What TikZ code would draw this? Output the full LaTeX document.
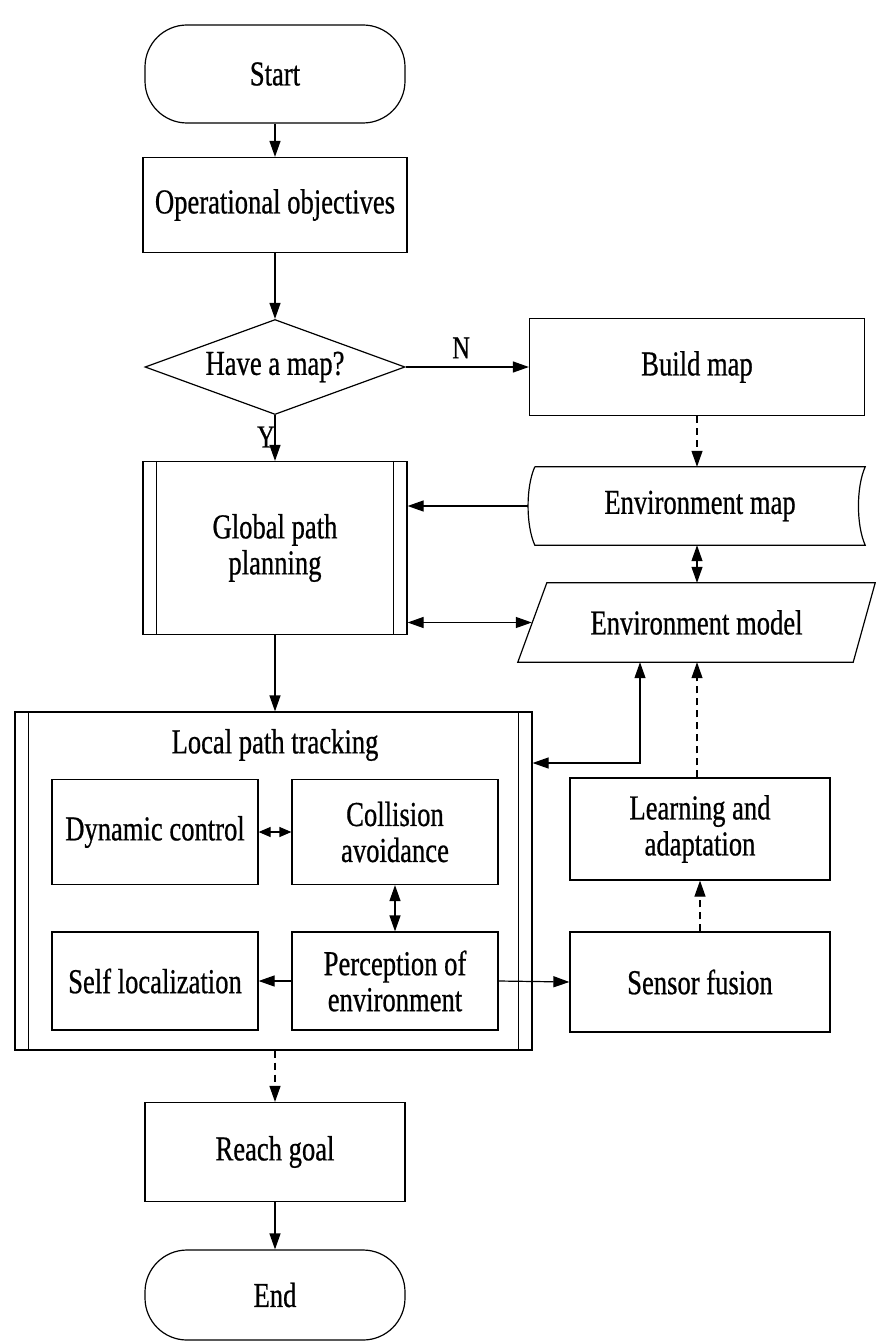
\documentclass[tikz,border=0pt]{standalone}
\usepackage{fontspec}
\setmainfont{Liberation Serif}[FakeStretch=0.76,FakeBold=0.6]
\usetikzlibrary{arrows.meta,shapes.geometric}
\begin{document}
\begin{tikzpicture}[x=1pt,y=-1pt,
  every node/.style={font=\fontsize{35}{36}\selectfont, align=center, inner sep=0pt},
  ln/.style={line width=1.2pt},
  box/.style={draw, ln, rectangle},
  term/.style={draw, ln, rounded corners=42pt},
  ar/.style={ln, -{Triangle[length=16pt,width=11pt]}},
  dar/.style={ln, {Triangle[length=16pt,width=11pt]}-{Triangle[length=16pt,width=11pt]}},
  sdar/.style={ln, {Triangle[length=12pt,width=10pt]}-{Triangle[length=12pt,width=10pt]}},
  dsh/.style={dash pattern=on 7pt off 5pt},
  lbl/.style={font=\fontsize{32}{34}\selectfont}
]
\useasboundingbox (0,0) rectangle (875,1343);

% main column
\node[term, minimum width=260pt, minimum height=98pt] (start) at (275,74) {Start};
\node[box, minimum width=264pt, minimum height=95pt] (obj) at (275,205) {Operational objectives};
\node[draw, ln, diamond, aspect=2.74, minimum width=260pt, minimum height=95pt] (dec) at (275,367) {Have a map?};
\node[box, minimum width=335pt, minimum height=97pt] (build) at (697,367) {Build map};
\node[box, minimum width=264pt, minimum height=173pt] (gpp) at (275,548) {Global path\\planning};
\draw[ln] ([xshift=14pt]gpp.north west) -- ([xshift=14pt]gpp.south west);
\draw[ln] ([xshift=-14pt]gpp.north east) -- ([xshift=-14pt]gpp.south east);

% environment map (stored data)
\node[minimum width=330pt, minimum height=78pt] (envmap) at (700,506) {Environment map};
\draw[ln] (envmap.north west) -- (envmap.north east)
  .. controls ([xshift=-9pt,yshift=-20pt]envmap.north east) and ([xshift=-9pt,yshift=20pt]envmap.south east) .. (envmap.south east)
  -- (envmap.south west)
  .. controls ([xshift=-9pt,yshift=20pt]envmap.south west) and ([xshift=-9pt,yshift=-20pt]envmap.north west) .. (envmap.north west);
\coordinate (envmapW) at ([xshift=-7pt]envmap.west);

% environment model (parallelogram)
\node[minimum width=357pt, minimum height=79pt] (envmodel) at (696.5,622.5) {Environment model};
\draw[ln] ([xshift=29pt]envmodel.north west) -- (envmodel.north east)
  -- ([xshift=-22pt]envmodel.south east) -- (envmodel.south west) -- cycle;
\coordinate (envmodelW) at ([xshift=14pt]envmodel.west);

% local path tracking
\node[box, minimum width=517pt, minimum height=338pt] (lpt) at (273.5,881) {};
\draw[ln] ([xshift=14pt]lpt.north west) -- ([xshift=14pt]lpt.south west);
\draw[ln] ([xshift=-14pt]lpt.north east) -- ([xshift=-14pt]lpt.south east);
\node (lpttitle) at (275,745) {Local path tracking};

\node[box, minimum width=206pt, minimum height=105pt] (dyn) at (155,832) {Dynamic control};
\node[box, minimum width=206pt, minimum height=105pt] (col) at (395,832) {Collision\\avoidance};
\node[box, minimum width=206pt, minimum height=98pt] (self) at (155,981) {Self localization};
\node[box, minimum width=206pt, minimum height=98pt] (per) at (395,981) {Perception of\\environment};

\node[box, minimum width=260pt, minimum height=102pt] (learn) at (700,829) {Learning and\\adaptation};
\node[box, minimum width=260pt, minimum height=100pt] (sensor) at (700,982) {Sensor fusion};

\node[box, minimum width=260pt, minimum height=99pt] (reach) at (275,1152) {Reach goal};
\node[term, minimum width=260pt, minimum height=90pt] (end) at (275,1295) {End};

% connectors
\draw[ar] (start) -- (obj);
\draw[ar] (obj) -- (dec);
\draw[ar] (dec.east) -- node[lbl, above=8pt, pos=0.45] (nlab) {N} (build.west);
\draw[ar] (dec.south) -- (gpp.north);
\node[lbl] (ylab) at (266,437) {Y};
\draw[ar, dsh] (build.south) -- (build.south |- envmap.north);
\draw[ar] (envmapW) -- (gpp.east |- envmapW);
\draw[dar] (envmap.south -| 697,0) -- (envmodel.north -| 697,0);
\draw[dar] (gpp.east |- envmodelW) -- (envmodelW);
\draw[ar] (gpp.south) -- (lpt.north -| gpp.south);
\coordinate (lptE) at (lpt.east |- 0,763);
\coordinate (modB) at (envmodel.south -| 640,0);
\draw[dar] (lptE) -- (lptE -| modB) -- (modB);
\draw[sdar] (dyn.east) -- (col.west);
\draw[dar] (col.south) -- (per.north);
\draw[ar] (per.west) -- (self.east);
\draw[ar] (per.east) -- (sensor.west);
\draw[ar, dsh] (sensor.north) -- (learn.south);
\draw[ar, dsh] (learn.north -| 697,0) -- (envmodel.south -| 697,0);
\draw[ar, dsh] (lpt.south -| reach.north) -- (reach.north);
\draw[ar] (reach) -- (end);
\end{tikzpicture}
\end{document}
